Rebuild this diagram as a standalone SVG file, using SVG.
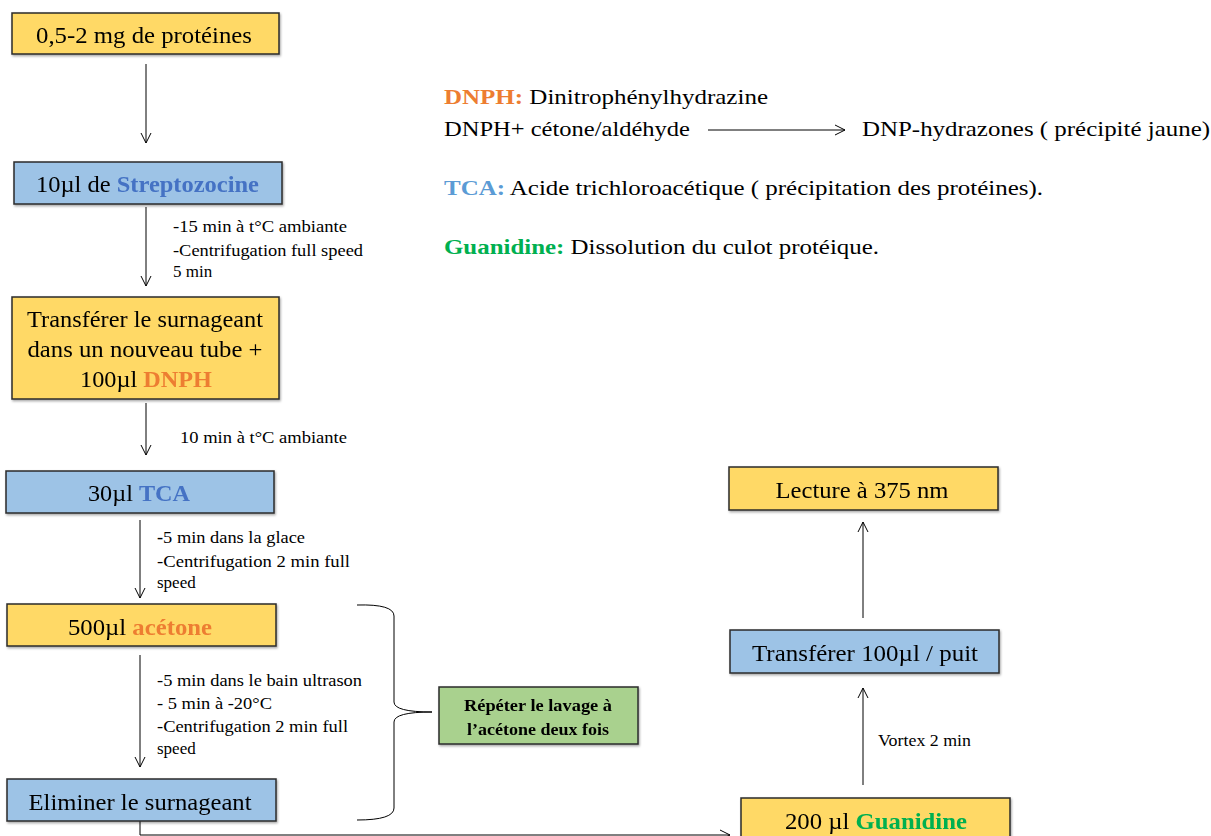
<svg xmlns="http://www.w3.org/2000/svg" width="1211" height="836" viewBox="0 0 1211 836">
<defs>
<style>
.box{stroke:#2b2b2b;stroke-width:1.5}
.y{fill:#FFD966}.b{fill:#9DC3E6}.g{fill:#A9D18E}
text{font-family:'Liberation Serif',Tinos,'Times New Roman',Times,serif;fill:#000}
.m{font-size:23px}
.s{font-size:17px}
.l{font-size:21px}
.bd{font-weight:bold}
.or{fill:#ED7D31}.bl{fill:#4472C4}.lb{fill:#5B9BD5}.gr{fill:#00B050}
.c{stroke:#000;stroke-width:1;fill:none}
</style>
<marker id="ah" viewBox="0 0 12 12" refX="11" refY="6" markerWidth="12" markerHeight="12" markerUnits="userSpaceOnUse" orient="auto">
<path d="M1,1 L11,6 L1,11" fill="none" stroke="#000" stroke-width="1"/>
</marker>
<filter id="sh" x="-5%" y="-5%" width="110%" height="115%"><feDropShadow dx="1" dy="1.5" stdDeviation="0.8" flood-color="#000" flood-opacity="0.35"/></filter>
</defs>
<rect width="1211" height="836" fill="#fff"/>

<g id="connectors">
<line class="c" x1="146" y1="64" x2="146" y2="143" marker-end="url(#ah)"/>
<line class="c" x1="146" y1="207" x2="146" y2="286" marker-end="url(#ah)"/>
<line class="c" x1="146" y1="403" x2="146" y2="455" marker-end="url(#ah)"/>
<line class="c" x1="140" y1="520" x2="140" y2="598" marker-end="url(#ah)"/>
<line class="c" x1="140" y1="655" x2="140" y2="767" marker-end="url(#ah)"/>
<path class="c" d="M140,821 L140,835 L730,835" marker-end="url(#ah)"/>
<line class="c" x1="863" y1="618" x2="863" y2="522" marker-end="url(#ah)"/>
<line class="c" x1="863" y1="785" x2="863" y2="688" marker-end="url(#ah)"/>
<line class="c" x1="708" y1="130" x2="845" y2="130" marker-end="url(#ah)"/>
<path class="c" stroke-width="1.3" d="M357,605 Q394,604 394,616 L394,702 Q394,712 432,712 Q394,712 394,722 L394,808 Q394,820 357,820"/>
<text font-family="Liberation Serif, serif" class="s" x="173" y="232" textLength="174" lengthAdjust="spacingAndGlyphs">-15 min à t°C ambiante</text>
<text class="s" x="173" y="256" textLength="190" lengthAdjust="spacingAndGlyphs">-Centrifugation full speed</text>
<text class="s" x="173" y="277">5 min</text>
<text class="s" x="180" y="443" textLength="167" lengthAdjust="spacingAndGlyphs">10 min à t°C ambiante</text>
<text class="s" x="157" y="543" textLength="148" lengthAdjust="spacingAndGlyphs"><tspan class="bd">-</tspan>5 min dans la glace</text>
<text class="s" x="157" y="567" textLength="193" lengthAdjust="spacingAndGlyphs">-Centrifugation 2 min full</text>
<text class="s" x="157" y="588">speed</text>
<text class="s" x="157" y="686" textLength="205" lengthAdjust="spacingAndGlyphs">-5 min dans le bain ultrason</text>
<text class="s" x="157" y="709" textLength="115" lengthAdjust="spacingAndGlyphs">- 5 min à -20°C</text>
<text class="s" x="157" y="732" textLength="191" lengthAdjust="spacingAndGlyphs">-Centrifugation 2 min full</text>
<text class="s" x="157" y="754">speed</text>
<text class="s" x="878" y="746" textLength="93" lengthAdjust="spacingAndGlyphs">Vortex 2 min</text>
</g>

<g id="n1" filter="url(#sh)"><rect class="box y" x="12" y="13" width="267" height="41"/>
<text class="m" x="144" y="43" text-anchor="middle" textLength="216" lengthAdjust="spacingAndGlyphs">0,5-2 mg de protéines</text></g>

<g id="n2" filter="url(#sh)"><rect class="box b" x="14" y="162" width="268" height="42"/>
<text class="m" x="147.5" y="192" text-anchor="middle" textLength="223" lengthAdjust="spacingAndGlyphs">10µl de <tspan class="bd bl">Streptozocine</tspan></text></g>

<g id="n3" filter="url(#sh)"><rect class="box y" x="12" y="297" width="267" height="102"/>
<text class="m" x="145" y="327" text-anchor="middle" textLength="236" lengthAdjust="spacingAndGlyphs">Transférer le surnageant</text>
<text class="m" x="145" y="357" text-anchor="middle" textLength="235" lengthAdjust="spacingAndGlyphs">dans un nouveau tube +</text>
<text class="m" x="146" y="387" text-anchor="middle" textLength="132" lengthAdjust="spacingAndGlyphs">100µl <tspan class="bd or">DNPH</tspan></text></g>

<g id="n4" filter="url(#sh)"><rect class="box b" x="6" y="471" width="268" height="42"/>
<text class="m" x="139" y="501" text-anchor="middle" textLength="102" lengthAdjust="spacingAndGlyphs">30µl <tspan class="bd bl">TCA</tspan></text></g>

<g id="n5" filter="url(#sh)"><rect class="box y" x="7" y="604" width="269" height="42"/>
<text class="m" x="140" y="635" text-anchor="middle" textLength="144" lengthAdjust="spacingAndGlyphs">500µl <tspan class="bd or">acétone</tspan></text></g>

<g id="n6" filter="url(#sh)"><rect class="box b" x="7" y="779" width="269" height="42"/>
<text class="m" x="140" y="810" text-anchor="middle" textLength="223" lengthAdjust="spacingAndGlyphs">Eliminer le surnageant</text></g>

<g id="n7" filter="url(#sh)"><rect class="box g" x="439" y="687" width="199" height="57"/>
<text class="bd" font-size="17" x="538" y="711" text-anchor="middle" textLength="148" lengthAdjust="spacingAndGlyphs">Répéter le lavage à</text>
<text class="bd" font-size="17" x="538" y="735" text-anchor="middle" textLength="142" lengthAdjust="spacingAndGlyphs">l’acétone deux fois</text></g>

<g id="n8" filter="url(#sh)"><rect class="box y" x="729" y="467" width="269" height="43"/>
<text class="m" x="862" y="498" text-anchor="middle" textLength="173" lengthAdjust="spacingAndGlyphs">Lecture à 375 nm</text></g>

<g id="n9" filter="url(#sh)"><rect class="box b" x="730" y="630" width="269" height="43"/>
<text class="m" x="865" y="661" text-anchor="middle" textLength="226" lengthAdjust="spacingAndGlyphs">Transférer  100µl / puit</text></g>

<g id="n10" filter="url(#sh)"><rect class="box y" x="741" y="798" width="269" height="48"/>
<text class="m" x="876" y="829" text-anchor="middle" textLength="182" lengthAdjust="spacingAndGlyphs">200 µl <tspan class="bd gr">Guanidine</tspan></text></g>

<g id="legend">
<text class="l" x="444" y="104" textLength="324" lengthAdjust="spacingAndGlyphs"><tspan class="bd or">DNPH:</tspan> Dinitrophénylhydrazine</text>
<text class="l" x="444" y="136" textLength="246" lengthAdjust="spacingAndGlyphs">DNPH+ cétone/aldéhyde</text>
<text class="l" x="862" y="136" textLength="348" lengthAdjust="spacingAndGlyphs">DNP-hydrazones ( précipité jaune)</text>
<text class="l" x="444" y="195" textLength="599" lengthAdjust="spacingAndGlyphs"><tspan class="bd lb">TCA:</tspan> Acide trichloroacétique ( précipitation des protéines).</text>
<text class="l" x="444" y="254" textLength="435" lengthAdjust="spacingAndGlyphs"><tspan class="bd gr">Guanidine:</tspan> Dissolution du culot protéique.</text>
</g>
</svg>
